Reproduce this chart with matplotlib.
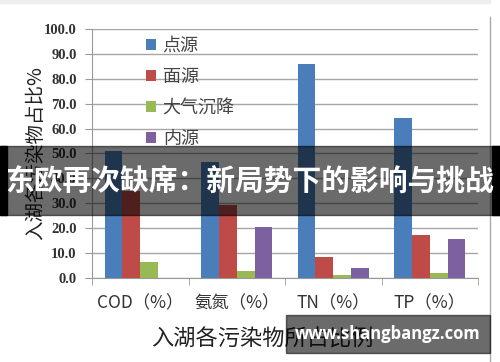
import numpy as np
import matplotlib.pyplot as plt
from matplotlib.patches import Rectangle

plt.rcParams['font.family'] = ['Noto Sans CJK SC', 'DejaVu Sans']

categories = ['COD（%）', '氨氮（%）', 'TN（%）', 'TP（%）']
series = ['点源', '面源', '大气沉降', '内源']
point_src = [51.0, 46.5, 86.0, 64.3]
area_src = [35.0, 29.3, 8.4, 17.3]
atmos = [6.4, 2.8, 1.2, 2.0]
internal = [0.0, 20.5, 4.0, 15.7]
colors = ['#4A7EBB', '#BE4B48', '#98B954', '#7D60A0']

fig = plt.figure(figsize=(5, 3.62), dpi=100)
ax = fig.add_axes([0.184, 0.232, 0.772, 0.688])

x = np.arange(len(categories))
w = 0.185
for i, (vals, c, lab) in enumerate(zip([point_src, area_src, atmos, internal], colors, series)):
    ax.bar(x + (i - 1.5) * w, vals, w, color=c, label=lab, zorder=3)

ax.set_xlim(-0.5, 3.5)
ax.set_ylim(0, 100)
ax.set_yticks(np.arange(0, 101, 10))
ax.set_yticklabels(['%.1f' % v for v in np.arange(0, 101, 10)],
                   family='Liberation Serif', fontweight='bold', fontsize=10.5,
                   color='#333333')
ax.grid(axis='y', color='#a6a6a6', linewidth=1, zorder=0)
ax.set_xticks(x)
ax.set_xticklabels(categories, fontsize=12.5, color='#333333')
ax.set_xticks(np.arange(-0.5, 3.6, 1), minor=True)
ax.tick_params(axis='x', which='major', length=0, pad=12)
ax.tick_params(axis='x', which='minor', length=5, color='#999999', direction='out')
ax.tick_params(axis='y', length=5, color='#999999', pad=6)
for s in ['top', 'right']:
    ax.spines[s].set_visible(False)
for s in ['left', 'bottom']:
    ax.spines[s].set_color('#999999')

ax.set_xlabel('入湖各污染物所占比例', fontsize=16, color='#222222')
ax.xaxis.set_label_coords(170 / 386, -50 / 249)
ax.set_ylabel('入湖各污染物占比%', fontsize=14, color='#222222')
ax.yaxis.set_label_coords(-46 / 386, 0.5)

ax.legend(loc='upper left', bbox_to_anchor=(0.099, 1.033), frameon=False,
          handlelength=0.55, handleheight=0.55, handletextpad=0.35,
          labelspacing=0.72, fontsize=13, labelcolor='#444444')

# frame bits from the source image
fig.patches.append(Rectangle((0, 1 - 3 / 362), 490 / 500, 3 / 362,
                             transform=fig.transFigure, color='#eeeeee'))
fig.add_artist(plt.Line2D([490 / 500, 490 / 500], [0, 1 - 17 / 362],
                          transform=fig.transFigure, color='#aaaaaa', lw=1))

# banner overlay
by, bh = 1 - 215 / 362, 69 / 362
fig.patches.append(Rectangle((0, by), 1, bh, transform=fig.transFigure,
                             color='black', alpha=0.58, zorder=10))
fig.patches.append(Rectangle((0, by), 7 / 500, bh, transform=fig.transFigure,
                             color='black', zorder=10))
fig.patches.append(Rectangle((492 / 500, by), 8 / 500, bh, transform=fig.transFigure,
                             color='black', zorder=10))
fig.text(0.5, by + bh / 2, '东欧再次缺席：新局势下的影响与挑战', ha='center', va='center',
         color='white', fontsize=20.7, fontweight='bold', zorder=11)

# watermark
fig.patches.append(Rectangle((286 / 500, 1 - 353 / 362), 204 / 500, 38 / 362,
                             transform=fig.transFigure, color='black', alpha=0.58, zorder=10))
fig.text(388 / 500, 1 - 334 / 362, 'www.shangbangz.com', ha='center', va='center',
         color='white', fontsize=12, fontweight='bold', family='Open Sans', zorder=11)

fig.savefig('out.png', dpi=100)
